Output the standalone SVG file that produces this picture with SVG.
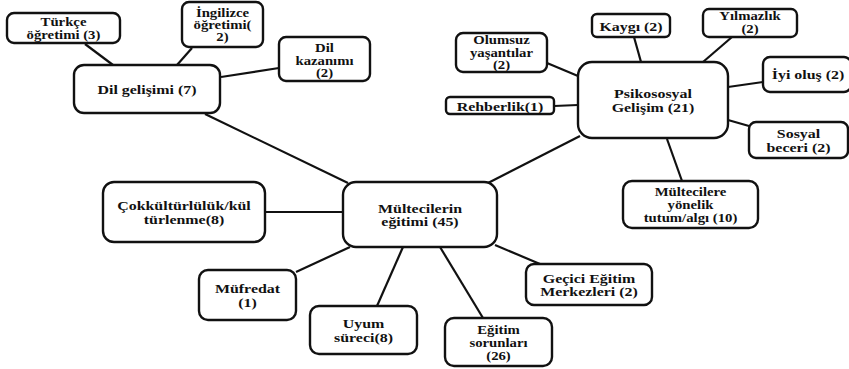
<svg xmlns="http://www.w3.org/2000/svg" width="849" height="369" viewBox="0 0 849 369">
<style>
.box{fill:#fff;stroke:#111;stroke-width:2.4}
.ln{stroke:#111;stroke-width:2.2;fill:none}
.t{font-family:'Liberation Serif','DejaVu Serif',serif;font-weight:bold;font-size:13.5px;fill:#111;text-anchor:middle}
.s{font-size:12.5px}
</style>
<rect width="849" height="369" fill="#fff"/>
<g id="connectors">
<line class="ln" x1="85" y1="44" x2="113" y2="65"/>
<line class="ln" x1="192" y1="48" x2="177" y2="65"/>
<line class="ln" x1="279" y1="68" x2="221" y2="77"/>
<line class="ln" x1="205" y1="114" x2="348" y2="183"/>
<line class="ln" x1="265" y1="212" x2="343" y2="212"/>
<line class="ln" x1="296" y1="272" x2="350" y2="247"/>
<line class="ln" x1="377" y1="306" x2="403" y2="247"/>
<line class="ln" x1="483" y1="318" x2="440" y2="247"/>
<line class="ln" x1="495" y1="245" x2="540" y2="264"/>
<line class="ln" x1="488" y1="183" x2="580" y2="136"/>
<line class="ln" x1="667" y1="139" x2="682" y2="181"/>
<line class="ln" x1="634" y1="37" x2="641" y2="62"/>
<line class="ln" x1="732" y1="37" x2="703" y2="62"/>
<line class="ln" x1="547" y1="63" x2="578" y2="76"/>
<line class="ln" x1="554" y1="106" x2="578" y2="105"/>
<line class="ln" x1="728" y1="87" x2="763" y2="82"/>
<line class="ln" x1="728" y1="120" x2="749" y2="126"/>
</g>
<g id="turkce">
<rect class="box" x="7" y="13" width="113" height="30" rx="7"/>
<text class="t s" transform="translate(63.5,28) scale(1.18,1)"><tspan x="0" y="-2">Türkçe</tspan><tspan x="0" y="10.5">öğretimi (3)</tspan></text>
</g>
<g id="ingilizce">
<rect class="box" x="182" y="2" width="81" height="45" rx="7"/>
<text class="t s" transform="translate(222.5,24.5) scale(1.18,1)"><tspan x="0" y="-8">İngilizce</tspan><tspan x="0" y="4.5">öğretimi(</tspan><tspan x="0" y="17">2)</tspan></text>
</g>
<g id="dilkazanimi">
<rect class="box" x="279" y="37" width="91" height="44" rx="7"/>
<text class="t s" transform="translate(324.5,59) scale(1.18,1)"><tspan x="0" y="-7">Dil</tspan><tspan x="0" y="5.5">kazanımı</tspan><tspan x="0" y="18">(2)</tspan></text>
</g>
<g id="dilgelisimi">
<rect class="box" x="74" y="65" width="146" height="48" rx="10"/>
<text class="t" transform="translate(147,94) scale(1.18,1)"><tspan x="0" y="0">Dil gelişimi (7)</tspan></text>
</g>
<g id="merkez">
<rect class="box" x="343" y="182" width="154" height="65" rx="13"/>
<text class="t" transform="translate(420,214.5) scale(1.18,1)"><tspan x="0" y="-2">Mültecilerin</tspan><tspan x="0" y="12">eğitimi (45)</tspan></text>
</g>
<g id="cokkulturluluk">
<rect class="box" x="103" y="182" width="162" height="60" rx="11"/>
<text class="t" transform="translate(184,212) scale(1.18,1)"><tspan x="0" y="-2">Çokkültürlülük/kül</tspan><tspan x="0" y="12">türlenme(8)</tspan></text>
</g>
<g id="mufredat">
<rect class="box" x="199" y="270" width="97" height="50" rx="9"/>
<text class="t" transform="translate(247.5,295) scale(1.18,1)"><tspan x="0" y="-2">Müfredat</tspan><tspan x="0" y="12">(1)</tspan></text>
</g>
<g id="uyum">
<rect class="box" x="310" y="306" width="107" height="48" rx="9"/>
<text class="t" transform="translate(363.5,330) scale(1.18,1)"><tspan x="0" y="-2">Uyum</tspan><tspan x="0" y="12">süreci(8)</tspan></text>
</g>
<g id="egitimsorunlari">
<rect class="box" x="445" y="318" width="107" height="48" rx="9"/>
<text class="t s" transform="translate(498.5,342) scale(1.18,1)"><tspan x="0" y="-8">Eğitim</tspan><tspan x="0" y="5">sorunları</tspan><tspan x="0" y="18">(26)</tspan></text>
</g>
<g id="gecici">
<rect class="box" x="526" y="264" width="126" height="41" rx="8"/>
<text class="t" transform="translate(589,284.5) scale(1.18,1)"><tspan x="0" y="-2">Geçici Eğitim</tspan><tspan x="0" y="12">Merkezleri (2)</tspan></text>
</g>
<g id="tutum">
<rect class="box" x="623" y="181" width="135" height="47" rx="9"/>
<text class="t s" transform="translate(690.5,204.5) scale(1.18,1)"><tspan x="0" y="-9">Mültecilere</tspan><tspan x="0" y="4.5">yönelik</tspan><tspan x="0" y="18">tutum/algı (10)</tspan></text>
</g>
<g id="psikososyal">
<rect class="box" x="578" y="62" width="150" height="76" rx="14"/>
<text class="t" transform="translate(653,100) scale(1.18,1)"><tspan x="0" y="-2">Psikososyal</tspan><tspan x="0" y="12">Gelişim (21)</tspan></text>
</g>
<g id="kaygi">
<rect class="box" x="592" y="14" width="78" height="23" rx="5"/>
<text class="t" transform="translate(631,30.5) scale(1.18,1)"><tspan x="0" y="0">Kaygı (2)</tspan></text>
</g>
<g id="yilmazlik">
<rect class="box" x="703" y="9" width="94" height="28" rx="6"/>
<text class="t s" transform="translate(750,23) scale(1.18,1)"><tspan x="0" y="-3">Yılmazlık</tspan><tspan x="0" y="9.5">(2)</tspan></text>
</g>
<g id="olumsuz">
<rect class="box" x="456" y="33" width="91" height="39" rx="7"/>
<text class="t s" transform="translate(501.5,52.5) scale(1.18,1)"><tspan x="0" y="-8.5">Olumsuz</tspan><tspan x="0" y="4">yaşantılar</tspan><tspan x="0" y="16.5">(2)</tspan></text>
</g>
<g id="rehberlik">
<rect class="box" x="446" y="97" width="108" height="17" rx="4"/>
<text class="t" transform="translate(500,110.5) scale(1.18,1)"><tspan x="0" y="0">Rehberlik(1)</tspan></text>
</g>
<g id="iyiolus">
<rect class="box" x="763" y="57" width="88" height="35" rx="7"/>
<text class="t" transform="translate(808,79) scale(1.18,1)"><tspan x="0" y="0">İyi oluş (2)</tspan></text>
</g>
<g id="sosyal">
<rect class="box" x="749" y="122" width="99" height="36" rx="7"/>
<text class="t" transform="translate(798.5,140) scale(1.18,1)"><tspan x="0" y="-2">Sosyal</tspan><tspan x="0" y="12">beceri (2)</tspan></text>
</g>
</svg>
